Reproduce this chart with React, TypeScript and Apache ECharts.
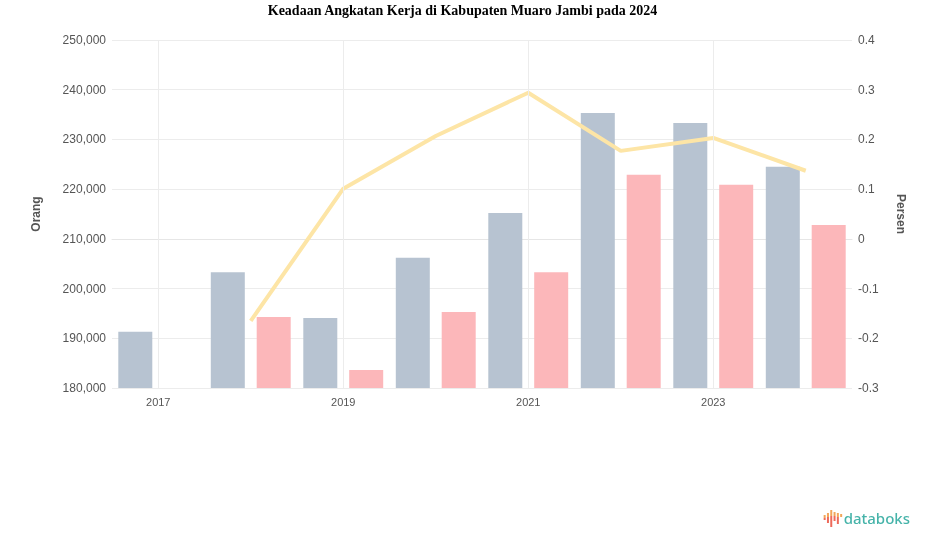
import React, { useEffect, useRef } from "react";
import * as echarts from "echarts";

const categories = ["2017", "2018", "2019", "2020", "2021", "2022", "2023", "2024"];
const angkatanKerja = [191300, 203300, 194100, 206200, 215200, 235300, 233300, 224500];
const bekerja = [null, 194300, 183600, 195300, 203300, 222900, 220900, 212800];
const persentase = [null, -0.165, 0.101, 0.207, 0.294, 0.177, 0.203, 0.137];
const gridCategories = ["2017", "2019", "2021", "2023"];

const leftMin = 180000;
const leftMax = 250000;
const leftStep = 10000;
const rightMin = -0.3;
const rightMax = 0.4;
const rightStep = 0.1;

export default function App() {
  const ref = useRef<HTMLDivElement>(null);
  useEffect(() => {
    if (!ref.current) return;
    const chart = echarts.init(ref.current, null, { renderer: "svg" });
    const serif = "'Liberation Serif', 'Times New Roman', serif";
    const sans = "'Liberation Sans', Arial, sans-serif";
    chart.setOption({
      animation: false,
      textStyle: { fontFamily: sans },
      title: {
        text: "Keadaan Angkatan Kerja di Kabupaten Muaro Jambi pada 2024",
        left: "center",
        top: -2,
        textStyle: { fontFamily: serif, fontWeight: "bold", fontSize: 14, color: "#000" },
      },
      grid: { left: 112, right: 73, top: 40, bottom: 159, containLabel: false },
      xAxis: {
        type: "category",
        data: categories,
        axisLine: { show: true, lineStyle: { color: "#e6e6e6" } },
        axisTick: { show: false },
        axisLabel: { interval: 1, color: "#555", fontSize: 11, margin: 8, fontFamily: sans },
        splitLine: { show: false },
      },
      yAxis: [
        {
          type: "value",
          min: leftMin,
          max: leftMax,
          interval: leftStep,
          name: "Orang",
          nameLocation: "middle",
          nameGap: 70,
          nameTextStyle: { color: "#555", fontSize: 12, fontWeight: "bold", fontFamily: sans },
          axisLine: { show: false },
          axisTick: { show: false },
          axisLabel: {
            color: "#555",
            fontSize: 12,
            margin: 6,
            fontFamily: sans,
            formatter: (v: number) => v.toLocaleString("en-US"),
          },
          splitLine: { lineStyle: { color: "#ececec", width: 1 } },
        },
        {
          type: "value",
          min: rightMin,
          max: rightMax,
          interval: rightStep,
          position: "right",
          name: "Persen",
          nameLocation: "middle",
          nameGap: 43,
          nameRotate: -90,
          nameTextStyle: { color: "#555", fontSize: 12, fontWeight: "bold", fontFamily: sans },
          axisLine: { show: false },
          axisTick: { show: false },
          axisLabel: {
            color: "#555",
            fontSize: 12,
            margin: 6,
            fontFamily: sans,
            formatter: (v: number) => (Math.abs(v) < 1e-9 ? "0" : v.toFixed(1)),
          },
          splitLine: { show: false },
        },
      ],
      series: [
        {
          name: "grid",
          type: "line",
          data: [],
          silent: true,
          z: 0,
          markLine: {
            silent: true,
            symbol: "none",
            label: { show: false },
            lineStyle: { color: "#ececec", type: "solid", width: 1 },
            data: gridCategories.map((c) => ({ xAxis: c })),
          },
        },
        {
          name: "Angkatan Kerja",
          type: "bar",
          data: angkatanKerja,
          barWidth: 34,
          barGap: "35%",
          itemStyle: { color: "#b7c3d1" },
          z: 2,
        },
        {
          name: "Bekerja",
          type: "bar",
          data: bekerja,
          barWidth: 34,
          itemStyle: { color: "#fcb7ba" },
          z: 2,
        },
        {
          name: "Persentase",
          type: "line",
          yAxisIndex: 1,
          data: persentase,
          showSymbol: false,
          symbol: "none",
          lineStyle: { color: "#fde5a6", width: 4 },
          itemStyle: { color: "#fde5a6" },
          z: 3,
        },
      ],
      graphic: [
        {
          type: "group",
          right: 15,
          bottom: 20,
          children: [
            { type: "rect", shape: { x: 2, y: 5, width: 2, height: 3 }, style: { fill: "#f2a65a" } },
            { type: "rect", shape: { x: 2, y: 8, width: 2, height: 2 }, style: { fill: "#ee6a5a" } },
            { type: "rect", shape: { x: 5.3, y: 3, width: 2, height: 4 }, style: { fill: "#f2a65a" } },
            { type: "rect", shape: { x: 5.3, y: 7, width: 2, height: 6 }, style: { fill: "#ee6a5a" } },
            { type: "rect", shape: { x: 8.6, y: 0, width: 2, height: 6 }, style: { fill: "#f2a65a" } },
            { type: "rect", shape: { x: 8.6, y: 6, width: 2, height: 11 }, style: { fill: "#ee6a5a" } },
            { type: "rect", shape: { x: 11.9, y: 2, width: 2, height: 4 }, style: { fill: "#f2a65a" } },
            { type: "rect", shape: { x: 11.9, y: 6, width: 2, height: 5 }, style: { fill: "#ee6a5a" } },
            { type: "rect", shape: { x: 15.2, y: 3, width: 2, height: 4 }, style: { fill: "#f2a65a" } },
            { type: "rect", shape: { x: 15.2, y: 7, width: 2, height: 7 }, style: { fill: "#ee6a5a" } },
            { type: "rect", shape: { x: 18.5, y: 4, width: 2, height: 3 }, style: { fill: "#f2a65a" } },
            {
              type: "text",
              x: 22,
              y: 0,
              style: {
                text: "databoks",
                fill: "#45b3a9",
                fontSize: 15,
                fontWeight: 500,
                fontFamily: "'Noto Sans', Roboto, sans-serif",
              },
            },
          ],
        },
      ],
    });
    return () => chart.dispose();
  }, []);
  return (
    <div
      ref={ref}
      style={{ position: "fixed", left: 0, top: 0, width: 925, height: 547 }}
    />
  );
}
